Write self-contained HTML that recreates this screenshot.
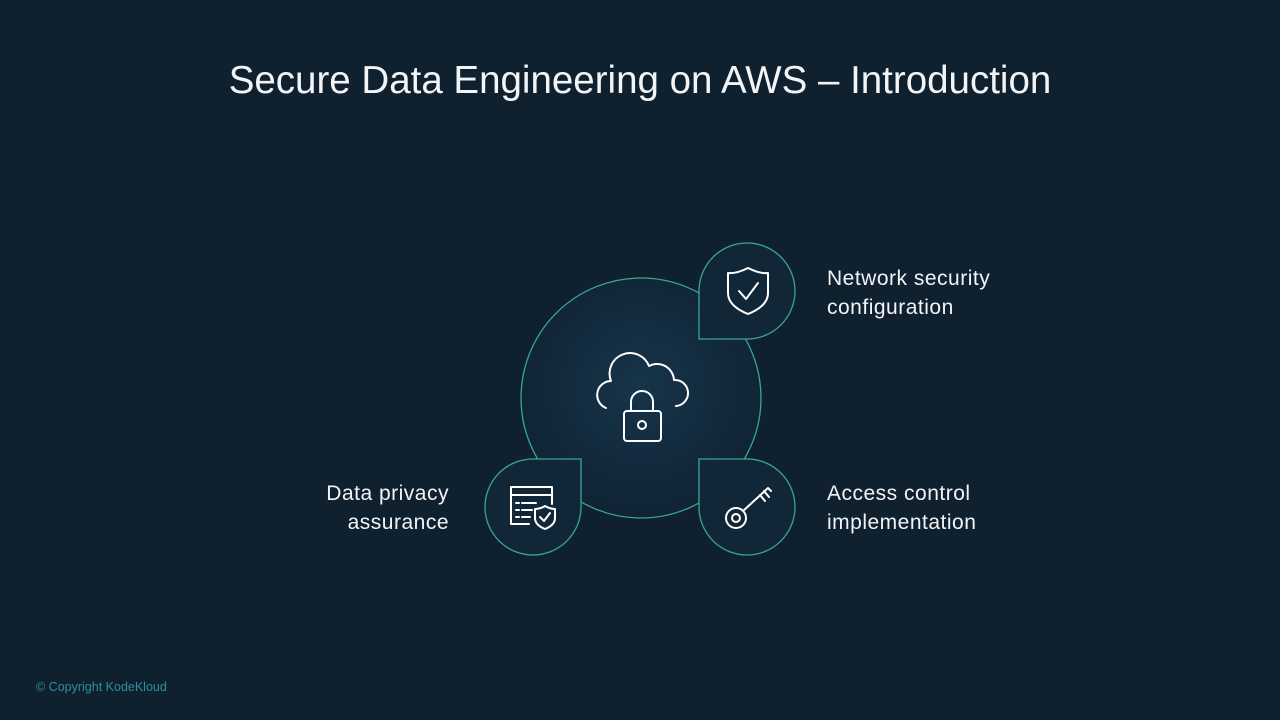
<!DOCTYPE html>
<html><head><meta charset="utf-8"><style>
html,body{margin:0;padding:0;background:#0f202e;}
.wrap{position:relative;width:1280px;height:720px;overflow:hidden;background:#0f202e;font-family:"Liberation Sans",sans-serif;color:#fff;}
.title{position:absolute;left:0;width:1280px;top:59px;text-align:center;font-size:38.5px;color:#f2f4f6;}
.lbl{position:absolute;font-size:21px;letter-spacing:0.5px;line-height:29px;color:#f2f4f6;}
.copy{position:absolute;left:36px;top:680px;font-size:12.5px;color:#2f8ea0;}
</style></head><body><div class="wrap">
<div class="title">Secure Data Engineering on AWS – Introduction</div>
<svg width="1280" height="720" style="position:absolute;left:0;top:0">
<defs><radialGradient id="g" cx="0.5" cy="0.45" r="0.6"><stop offset="0" stop-color="#17344a"/><stop offset="1" stop-color="#0f2232"/></radialGradient></defs>
<g stroke="#3aa596" stroke-width="1.3" fill="url(#g)">
<circle cx="641" cy="398" r="120"/>
<path d="M699 339 V291 A48 48 0 1 1 747 339 Z" fill="#112636"/>
<path d="M581 459 V507 A48 48 0 1 1 533 459 Z" fill="#112636"/>
<path d="M699 459 H747 A48 48 0 1 1 699 507 Z" fill="#112636"/>
</g>
<g stroke="#fff" stroke-width="2" fill="none" stroke-linecap="round" stroke-linejoin="round">
<path d="M606 408 A14 14 0 0 1 611 381 A20 20 0 0 1 649 366 A17 17 0 0 1 674 380 A13 13 0 0 1 676 406"/>
<rect x="624" y="411" width="37" height="30" rx="3"/>
<path d="M631 411 V402 A11 11 0 0 1 653 402 V411"/>
<circle cx="642" cy="425" r="4"/>
<path d="M748 268 Q760 274 768 273 V293 Q768 306 748 314 Q728 306 728 293 V273 Q736 274 748 268 Z"/>
<path d="M739 291 L746 299 L758 283"/>
<path d="M529 524 H511 V487 H552 V504"/>
<path d="M511 495 H552"/>
<path d="M516 503 H519 M522 503 H536 M516 510 H519 M522 510 H532 M516 517 H519 M522 517 H530"/>
<path d="M545 506 Q550 509 555 509 V518 Q555 525 545 529 Q535 525 535 518 V509 Q540 509 545 506 Z"/>
<path d="M540 517 L544 521 L550 513"/>
<circle cx="736" cy="518" r="10"/><circle cx="736" cy="518" r="4"/>
<path d="M743 511 L768 488 M760 495 L765 501 M764 491 L769 497 M768 488 L771 491"/>
</g>
</svg>
<div class="lbl" style="left:827px;top:264px">Network security<br>configuration</div>
<div class="lbl" style="left:827px;top:479px">Access control<br>implementation</div>
<div class="lbl" style="left:250px;width:199px;text-align:right;top:479px">Data privacy<br>assurance</div>
<div class="copy">© Copyright KodeKloud</div>
</div></body></html>
